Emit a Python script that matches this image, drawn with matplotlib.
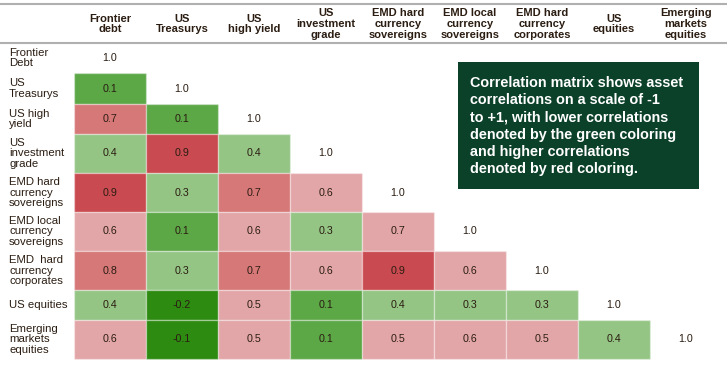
import matplotlib.pyplot as plt
from matplotlib.patches import Rectangle

# Popisky sloupců a řádků
col_labels = ["Frontier\ndebt", "US\nTreasurys", "US\nhigh yield", "US\ninvestment\ngrade",
              "EMD hard\ncurrency\nsovereigns", "EMD local\ncurrency\nsovereigns",
              "EMD hard\ncurrency\ncorporates", "US\nequities", "Emerging\nmarkets\nequities"]
row_labels = ["Frontier\nDebt", "US\nTreasurys", "US high\nyield", "US\ninvestment\ngrade",
              "EMD hard\ncurrency\nsovereigns", "EMD local\ncurrency\nsovereigns",
              "EMD  hard\ncurrency\ncorporates", "US equities", "Emerging\nmarkets\nequities"]

# Korelace (dolní trojúhelník, bez diagonály)
corr = [
    [],
    [0.1],
    [0.7, 0.1],
    [0.4, 0.9, 0.4],
    [0.9, 0.3, 0.7, 0.6],
    [0.6, 0.1, 0.6, 0.3, 0.7],
    [0.8, 0.3, 0.7, 0.6, 0.9, 0.6],
    [0.4, -0.2, 0.5, 0.1, 0.4, 0.3, 0.3],
    [0.6, -0.1, 0.5, 0.1, 0.5, 0.6, 0.5, 0.4],
]
# Odstín buňky (0 tmavě zelená ... 5 červená)
shade = [
    [],
    [1],
    [4, 1],
    [2, 5, 2],
    [5, 2, 4, 3],
    [3, 1, 3, 2, 3],
    [4, 2, 4, 3, 5, 3],
    [2, 0, 3, 1, 2, 2, 2],
    [3, 0, 3, 1, 3, 3, 3, 2],
]
palette = ["#2e8b12", "#5ca746", "#94c585", "#e3a6a8", "#d67778", "#c94a50"]

note = ("Correlation matrix shows asset\ncorrelations on a scale of -1\n"
        "to +1, with lower correlations\ndenoted by the green coloring\n"
        "and higher correlations\ndenoted by red coloring.")

# Rozložení (v pixelech)
x0, cw = 74, 72
row_edges = [43, 73, 104, 134, 173, 212, 251, 290, 320, 359]
txt = "#2b1d12"
plt.rcParams['font.family'] = ['Liberation Sans', 'DejaVu Sans']

fig = plt.figure(figsize=(7.27, 3.69), dpi=100)
ax = fig.add_axes([0, 0, 1, 1])
ax.set_xlim(0, 727)
ax.set_ylim(369, 0)
ax.axis('off')

ax.plot([0, 727], [4, 4], color="#b0b0b0", lw=1.5)
ax.plot([0, 727], [43, 43], color="#b0b0b0", lw=1.5)

for j, lab in enumerate(col_labels):
    ax.text(x0 + cw * j + cw / 2, 24, lab, ha='center', va='center',
            fontsize=8, fontweight='bold', color=txt, linespacing=1.12)

for i, lab in enumerate(row_labels):
    top, bot = row_edges[i], row_edges[i + 1]
    yc = (top + bot) / 2
    ax.text(9, yc, lab, ha='left', va='center', fontsize=8.2, color=txt, linespacing=1.1)
    for j, v in enumerate(corr[i]):
        ax.add_patch(Rectangle((x0 + cw * j, top), cw, bot - top,
                               facecolor=palette[shade[i][j]], edgecolor=(1, 1, 1, 0.35), lw=1))
        ax.text(x0 + cw * j + cw / 2, yc, f"{v:.1f}", ha='center', va='center',
                fontsize=7.7, color=txt)
    ax.text(x0 + cw * i + cw / 2, yc, "1.0", ha='center', va='center', fontsize=7.7, color=txt)

# Zelený rámeček s poznámkou
ax.add_patch(Rectangle((458, 62), 241, 127, facecolor="#0b4029", edgecolor='none'))
ax.text(470, 126, note, ha='left', va='center', fontsize=10.4, fontweight='bold',
        color='white', linespacing=1.3)

fig.savefig("out.png", dpi=100)
